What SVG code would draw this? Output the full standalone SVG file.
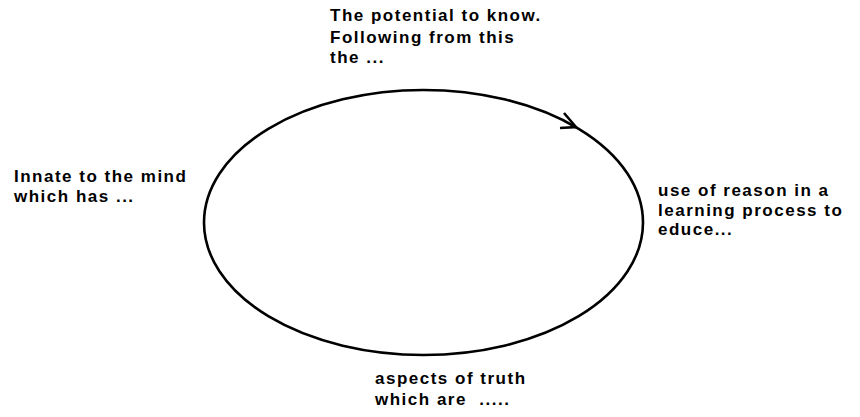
<svg xmlns="http://www.w3.org/2000/svg" width="860" height="417" viewBox="0 0 860 417">
<style>
text{font-family:"Liberation Sans",Arial,sans-serif;font-weight:bold;font-size:17px;letter-spacing:1.5px;fill:#000}
.c{fill:none;stroke:#000;stroke-width:2.6}
</style>
<rect width="860" height="417" fill="#fff"/>
<g id="connectors">
<ellipse class="c" cx="423.5" cy="222.5" rx="219.5" ry="132.5"/>
<polyline class="c" points="564,113 576,127 560,128"/>
</g>
<g id="top"><text x="330" y="21">The potential to know.</text><text x="330" y="43">Following from this</text><text x="330" y="63">the ...</text></g>
<g id="left"><text x="14" y="182">Innate to the mind</text><text x="14" y="202">which has ...</text></g>
<g id="right"><text x="658" y="196">use of reason in a</text><text x="658" y="216">learning process to</text><text x="658" y="235">educe...</text></g>
<g id="bottom"><text x="375" y="384">aspects of truth</text><text x="375" y="405" xml:space="preserve">which are  .....</text></g>
</svg>
